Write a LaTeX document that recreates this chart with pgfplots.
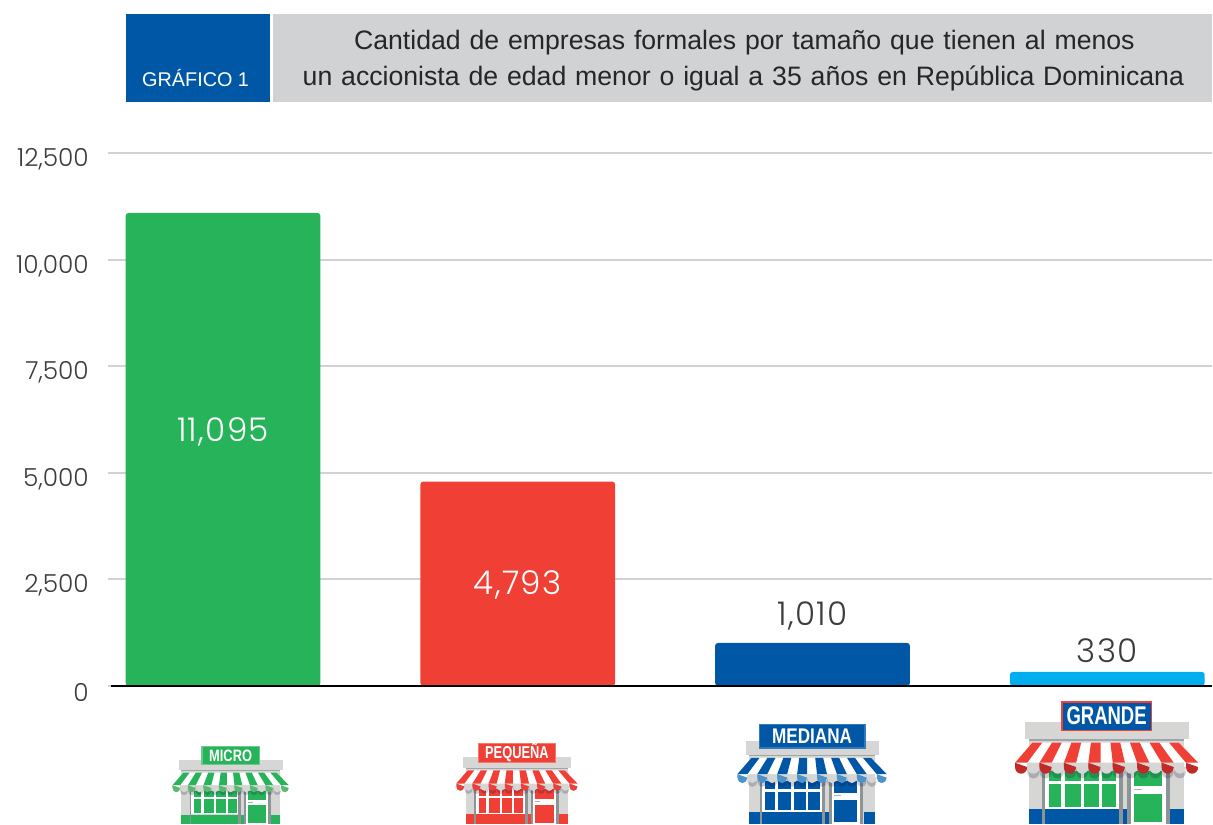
\documentclass[border=0pt]{standalone}
\usepackage{fontspec}
\usepackage{pgfplots}
\pgfplotsset{compat=1.18}
\setmainfont{Liberation Sans}
\newfontfamily\numfont{Poppins Light}
\newfontfamily\valfont[LetterSpace=4]{Poppins Light}
\newfontfamily\titlefont[WordSpace=1.2]{Liberation Sans}
\definecolor{cblue}{HTML}{0057A5}
\definecolor{cgreen}{HTML}{27B35A}
\definecolor{cred}{HTML}{F04035}
\definecolor{ccyan}{HTML}{00AEEF}
\definecolor{cgrey}{HTML}{D1D2D4}
\definecolor{cwall}{HTML}{D6D6D4}
\definecolor{cpillar}{HTML}{8C9496}
\definecolor{cshadow}{HTML}{A8ADB8}
\definecolor{ctext}{HTML}{3C3C3C}
\definecolor{scgreen}{HTML}{5AB96E}
\definecolor{scred}{HTML}{E8403A}
\definecolor{scblue}{HTML}{4A94CB}
\definecolor{scdark}{HTML}{C12B27}
% #1 centre x (px), #2 scale, #3 sign colour, #4 sign border, #5 sign width, #6 label,
% #7 stripe colour, #8 scallop colour, #9 pane colour; \basecol is the base colour
\newcommand{\store}[9]{%
\begin{scope}[shift={(#1,825)},x=#2*0.2pt,y=#2*0.2pt]
  \fill[cwall] (-233,0) rectangle (232,250);
  \fill[\basecol] (-233,0) rectangle (62,45);
  \fill[\basecol] (190,0) rectangle (232,45);
  \fill[white] (-185,47) rectangle (37,160);
  \foreach \a/\b in {-173/-138,-125/-77,-68/-23,-14/28}{
    \fill[#9] (\a,53) rectangle (\b,120);
    \fill[#9] (\a,130) rectangle (\b,160);
  }
  \fill[white] (73,0) rectangle (177,160);
  \fill[#9] (82,115) rectangle (167,160);
  \fill[#9] (82,7) rectangle (167,90);
  \fill[cshadow] (82,103) rectangle (107,107);
  \foreach \a/\b in {-193/-185,37/49,62/73,177/189}{
    \fill[cpillar] (\a,0) rectangle (\b,165);
  }
  \foreach \i in {1,...,13}{
    \pgfmathsetmacro\sa{-275+\i*36.67}
    \fill[black!80!blue,fill opacity=0.2] (\sa,180) -- (\sa,158) arc[start angle=180,end angle=360,x radius=18.3,y radius=20] -- cycle;
  }
  \fill[cwall] (-245,257) rectangle (247,306);
  \fill[cshadow!80!gray] (-233,250) rectangle (232,257);
  \fill[#3,draw=#4,line width=#2*1.1pt] ({-#5/2},282) rectangle ({#5/2},368);
  \node[white,anchor=center] at (0,325) {\pgfmathsetmacro\fs{14.2*#2}\fontsize{\fs}{\fs}\selectfont\bfseries\scalebox{0.76}[1]{#6}};
  \fill[white] (-223,245) -- (217,245) -- (275,185) -- (-275,185) -- cycle;
  \foreach \i in {0,2,...,14}{
    \pgfmathsetmacro\ba{-275+\i*36.67}
    \pgfmathsetmacro\bb{\ba+36.67}
    \pgfmathsetmacro\ta{-223+\i*29.33}
    \pgfmathsetmacro\tb{\ta+29.33}
    \fill[#7] (\ta,245) -- (\tb,245) -- (\bb,185) -- (\ba,185) -- cycle;
  }
  \foreach \i in {1,3,...,13}{
    \pgfmathsetmacro\sa{-275+\i*36.67}
    \fill[cwall] (\sa,185) -- (\sa,172) arc[start angle=180,end angle=360,x radius=18.33,y radius=20] -- cycle;
  }
  \foreach \i in {0,2,...,14}{
    \pgfmathsetmacro\sa{-275+\i*36.67}
    \fill[#8] (\sa,185) -- (\sa,172) arc[start angle=180,end angle=360,x radius=18.33,y radius=20] -- cycle;
  }
\end{scope}}
\begin{document}
\begin{tikzpicture}
\begin{scope}[x=0.6pt,y=-0.6pt]
  \useasboundingbox (0,0) rectangle (1213,825);
  \fill[cblue] (126,14) rectangle (270,102);
  \fill[cgrey] (273,14) rectangle (1213,102);
  \node[white,anchor=base west,inner sep=0pt] at (142,87) {\fontsize{11.9}{12}\selectfont GRÁFICO 1};
  \node[black!85,anchor=base,inner sep=0pt] at (745,50) {\titlefont\fontsize{16}{16}\selectfont Cantidad de empresas formales por tamaño que tienen al menos};
  \node[black!85,anchor=base,inner sep=0pt] at (744,86) {\titlefont\fontsize{16}{16}\selectfont un accionista de edad menor o igual a 35 años en República Dominicana};
\end{scope}
\begin{axis}[
  at={(64.8pt,-411.9pt)},anchor=south west,
  scale only axis,width=663pt,height=320pt,
  xmin=-0.3905,xmax=3.3552,ymin=0,ymax=12500,
  axis x line=bottom,axis y line=left,
  axis line style={draw=none,-},
  xtick=\empty,
  ytick={0,2500,5000,7500,10000,12500},
  major tick length=0pt,
  ymajorgrids,
  grid style={draw=cgrey,line width=1.2pt},
  scaled y ticks=false,
  /pgf/number format/.cd,1000 sep={,},assume math mode=true,
  /pgfplots/.cd,
  yticklabel style={font=\numfont\fontsize{14.9}{14.9}\selectfont,text=ctext,anchor=east,xshift=-8pt,yshift=-3.8pt},
  ybar,bar width=117pt,
  nodes near coords,
  clip=false,
]
\addplot[bar shift=0pt,fill=cgreen,draw=none,rounded corners=1.8pt,
  every node near coord/.append style={anchor=center,yshift=-131.5pt,text=white,font=\valfont\fontsize{19.6}{19.6}\selectfont,sharp corners}]
  coordinates {(0,11095)};
\addplot[bar shift=0pt,fill=cred,draw=none,rounded corners=1.8pt,
  every node near coord/.append style={anchor=center,yshift=-62pt,text=white,font=\valfont\fontsize{19.6}{19.6}\selectfont,sharp corners}]
  coordinates {(1,4793)};
\addplot[bar shift=0pt,fill=cblue,draw=none,rounded corners=1.8pt,
  every node near coord/.append style={anchor=center,yshift=16pt,text=ctext,font=\valfont\fontsize{19.6}{19.6}\selectfont,sharp corners}]
  coordinates {(2,1010)};
\addplot[bar shift=0pt,fill=ccyan,draw=none,rounded corners=1.8pt,
  every node near coord/.append style={anchor=center,yshift=12.6pt,text=ctext,font=\valfont\fontsize{19.6}{19.6}\selectfont,sharp corners}]
  coordinates {(3,330)};
\draw[black,line width=1.1pt] (rel axis cs:0.003,0) -- (rel axis cs:1,0);
\end{axis}
\begin{scope}[x=0.6pt,y=-0.6pt]
  \clip (0,0) rectangle (1213,825);
  \def\basecol{cgreen}
  \store{230.8}{0.635}{cgreen}{cgreen!70!white}{271}{\scalebox{1.13}[1.1]{MICRO}}{cgreen}{scgreen}{cgreen}
  \def\basecol{cred}
  \store{517.3}{0.662}{cred}{cred!70!white}{350}{\scalebox{1.08}[1.1]{PEQUEÑA}}{cred}{scred}{cred}
  \def\basecol{cblue}
  \store{812.7}{0.815}{cblue}{cblue!80!white}{389}{\scalebox{1.17}[1.1]{MEDIANA}}{cblue}{scblue}{cblue}
  \def\basecol{cblue}
  \store{1107.5}{1}{cblue}{cred}{270}{\scalebox{1.03}[1.08]{GRANDE}}{cred}{scdark}{cgreen}
\end{scope}
\end{tikzpicture}
\end{document}
